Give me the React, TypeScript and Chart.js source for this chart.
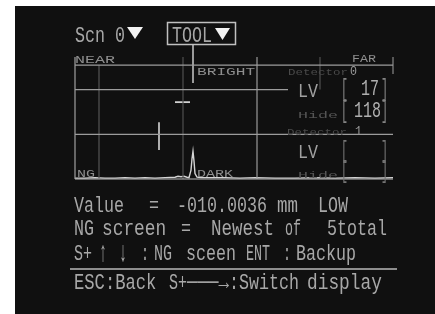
import React, { useEffect, useRef } from "react";
import { Chart, registerables } from "chart.js";

Chart.register(...registerables);

// ---- data (sensor position 0..318, intensity 0..273) ----
const wavePosition = [0, 10, 20, 30, 40, 50, 60, 70, 80, 90, 100, 103, 106, 109, 112, 114, 116, 117, 118, 119, 120, 122, 126, 135, 150, 165, 180, 200, 220, 240, 260, 280, 300, 318];
const waveIntensity = [2, 2, 3, 2, 2, 3, 2, 3, 2, 3, 4, 6, 5, 6, 4, 3, 20, 45, 62, 40, 12, 4, 3, 3, 3, 2, 3, 2, 2, 3, 2, 3, 2, 3];

// horizontal level lines: [level, fromPos, toPos]
const levelLines = [[255, 0, 318], [200, 0, 213], [100, 0, 318], [0, 0, 318]];
// vertical position lines: [pos, fromLevel, toLevel, colour]
const positionLines = [
  [0, 0, 273, "#a0a0a0"],
  [24, 0, 255, "#555555"],
  [108, 0, 273, "#505050"],
  [182, 0, 273, "#9a9a9a"],
  [245, 200, 273, "#505050"],
  [318, 235, 273, "#888888"],
];
const cursorPos = 118;
const cursorLevels = [215, 302];
const markerH = { level: 172, from: 100, to: 115 };
const markerV = { pos: 84, from: 65, to: 127 };

// ---- screen texts (page x, page baseline) ----
const topTexts = [["Scn 0", 75, 42, 10, 15], ["TOOL", 172, 42, 10, 15]];
const line1 = [["Value", 74, 10], ["=", 149, 10], ["-010.0036", 177, 10], ["mm", 277, 10.5], ["LOW", 318, 10]];
const line2 = [["NG", 74, 10], ["screen", 102, 10.7], ["=", 181, 10], ["Newest", 211, 10.5], ["of", 285, 8], ["5total", 327, 10]];
const line3 = [["S+", 74, 9], ["↑", 99, 8], ["↓", 119, 8], [":", 141, 8], ["NG", 154, 9], ["sceen", 186, 10], ["ENT", 246, 8], [":", 283, 8], ["Backup", 296, 10]];
const line4 = [["ESC:Back", 74, 10.3], ["S+", 169, 9], ["───→", 187, 10.5], [":Switch", 229, 10], ["display", 307, 10.7]];
const bottomBaselines = [212, 235, 260, 289];

const OX = 15;
const OY = 6;
const FONT = '"Liberation Mono", "DejaVu Sans Mono", monospace';

function drawText(ctx: CanvasRenderingContext2D, s: string, px: number, pbase: number, pitch: number, cap: number, color: string) {
  const size = cap / 0.66;
  ctx.font = `${size}px ${FONT}`;
  ctx.fillStyle = color;
  ctx.textAlign = "center";
  ctx.textBaseline = "alphabetic";
  const sx = pitch / (size * 0.6);
  Array.from(s).forEach((ch, i) => {
    if (ch === " ") return;
    ctx.save();
    ctx.translate(px - OX + i * pitch + pitch / 2, pbase - OY);
    ctx.scale(sx, 1);
    ctx.fillText(ch, 0, 0);
    ctx.restore();
  });
}

function tri(ctx: CanvasRenderingContext2D, x1: number, x2: number, y1: number, y2: number) {
  ctx.fillStyle = "#f2f2f2";
  ctx.beginPath();
  ctx.moveTo(x1 - OX, y1 - OY);
  ctx.lineTo(x2 - OX, y1 - OY);
  ctx.lineTo((x1 + x2) / 2 - OX, y2 - OY);
  ctx.closePath();
  ctx.fill();
}

const screenPlugin = {
  id: "screen",
  afterDraw(chart: any) {
    const ctx: CanvasRenderingContext2D = chart.ctx;
    ctx.save();
    const txt = "#a8a8a8";
    // header
    topTexts.forEach(([s, x, b, p, c]) => drawText(ctx, s as string, x as number, b as number, p as number, c as number, txt));
    tri(ctx, 127, 143, 27, 39);
    tri(ctx, 215, 230, 28, 40);
    ctx.strokeStyle = "#c0c0c0";
    ctx.lineWidth = 1.5;
    ctx.strokeRect(167.5 - OX, 22.5 - OY, 68, 22);

    // graph labels
    drawText(ctx, "NEAR", 75, 63, 10, 7, "#8e8e8e");
    drawText(ctx, "FAR", 352, 62, 8, 7, "#8e8e8e");
    drawText(ctx, "BRIGHT", 197, 75, 9.7, 7, "#8e8e8e");
    drawText(ctx, "NG", 77, 177, 9, 7, "#8e8e8e");
    drawText(ctx, "DARK", 197, 177, 9, 7, "#8e8e8e");

    // right panel
    drawText(ctx, "Detector", 288, 75, 7.5, 6, "#4a4a4a");
    drawText(ctx, "0", 350, 75, 7, 8, "#9a9a9a");
    drawText(ctx, "LV", 298, 97, 10, 13, "#a0a0a0");
    drawText(ctx, "[", 341, 96, 7, 16, "#848484");
    drawText(ctx, "17", 361, 95, 9, 15, "#b0b0b0");
    drawText(ctx, "]", 381, 96, 7, 16, "#848484");
    drawText(ctx, "Hide", 298, 118, 10, 6, "#555555");
    drawText(ctx, "[", 341, 118, 7, 16, "#848484");
    drawText(ctx, "118", 354, 117, 9, 15, "#b0b0b0");
    drawText(ctx, "]", 381, 118, 7, 16, "#848484");
    drawText(ctx, "Detector", 287, 135, 7.5, 6, "#4a4a4a");
    drawText(ctx, "1", 355, 135, 7, 8, "#9a9a9a");
    drawText(ctx, "LV", 298, 158, 10, 13, "#a0a0a0");
    drawText(ctx, "[", 341, 158, 7, 16, "#747474");
    drawText(ctx, "]", 381, 158, 7, 16, "#747474");
    drawText(ctx, "Hide", 298, 178, 10, 6, "#555555");
    drawText(ctx, "[", 341, 178, 7, 16, "#747474");
    drawText(ctx, "]", 381, 178, 7, 16, "#747474");

    // bottom texts
    [line1, line2, line3, line4].forEach((segs, li) => {
      segs.forEach(([s, x, p]) => {
        const arrow = s === "↑" || s === "↓";
        drawText(ctx, s as string, x as number, bottomBaselines[li] + (arrow ? 1 : 0), p as number, arrow ? 19 : 15, txt);
      });
    });
    ctx.strokeStyle = "#b8b8b8";
    ctx.lineWidth = 1.5;
    ctx.beginPath();
    ctx.moveTo(70 - OX, 269 - OY);
    ctx.lineTo(397 - OX, 269 - OY);
    ctx.stroke();
    ctx.restore();
  },
};

function lineDs(points: { x: number; y: number }[], color: string, width = 1) {
  return {
    data: points,
    showLine: true,
    borderColor: color,
    borderWidth: width,
    pointRadius: 0,
    clip: false as any,
    tension: 0,
  };
}

export default function App() {
  const ref = useRef<HTMLCanvasElement>(null);
  useEffect(() => {
    if (!ref.current) return;
    const datasets: any[] = [];
    levelLines.forEach(([lv, a, b]) =>
      datasets.push(lineDs([{ x: a, y: lv }, { x: b, y: lv }], lv === 0 ? "#bcbcbc" : "#9c9c9c", 1.2))
    );
    positionLines.forEach(([p, a, b, c]) =>
      datasets.push(lineDs([{ x: p as number, y: a as number }, { x: p as number, y: b as number }], c as string, 1.2))
    );
    datasets.push(lineDs(cursorLevels.map((l) => ({ x: cursorPos, y: l })), "#c8c8c8", 1.5));
    datasets.push(lineDs([{ x: markerH.from, y: markerH.level }, { x: markerH.to, y: markerH.level }], "#d0d0d0", 1.8));
    datasets.push(lineDs([{ x: markerV.pos, y: markerV.from }, { x: markerV.pos, y: markerV.to }], "#c0c0c0", 1.8));
    datasets.push(lineDs(wavePosition.map((x, i) => ({ x, y: waveIntensity[i] })), "#d4d4d4", 1.4));

    const chart = new Chart(ref.current, {
      type: "scatter",
      data: { datasets },
      options: {
        responsive: false,
        animation: false,
        layout: { padding: { left: 60, right: 42, top: 51, bottom: 135 } },
        plugins: { legend: { display: false }, tooltip: { enabled: false } },
        scales: {
          x: { type: "linear", min: 0, max: 318, display: false },
          y: { type: "linear", min: 0, max: 273, display: false },
        },
      },
      plugins: [screenPlugin],
    });
    return () => chart.destroy();
  }, []);
  return (
    <div style={{ position: "absolute", left: 15, top: 6, width: 420, height: 308, background: "#101010" }}>
      <canvas ref={ref} width={420} height={308} style={{ display: "block" }} />
    </div>
  );
}
